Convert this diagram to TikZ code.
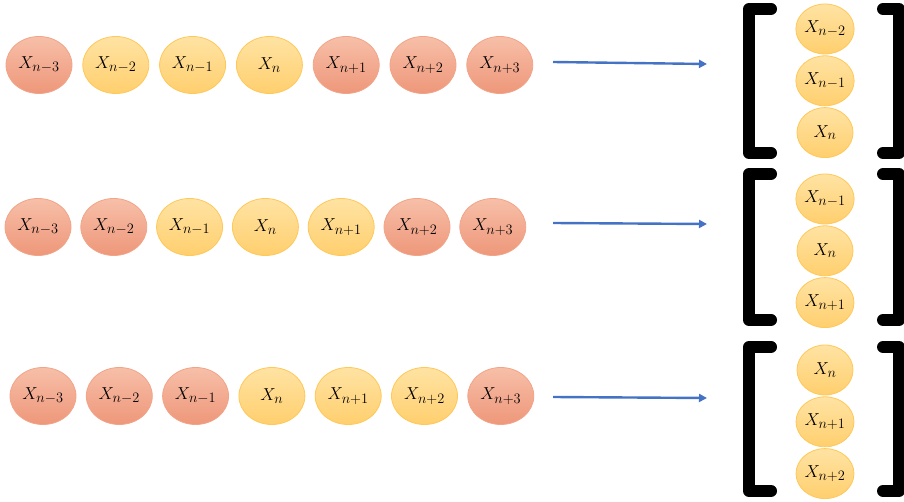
\documentclass[tikz,border=0pt]{standalone}
\usepackage{tikz}
\usetikzlibrary{shapes.geometric,arrows.meta,positioning}

\definecolor{redtop}{HTML}{F7BFA8}
\definecolor{redbot}{HTML}{EE977A}
\definecolor{redline}{HTML}{F2A488}
\definecolor{yeltop}{HTML}{FFE3A3}
\definecolor{yelbot}{HTML}{FFCF6E}
\definecolor{yelline}{HTML}{FFC857}
\definecolor{arrowblue}{HTML}{4472C4}

% larger subscripts for the labels
\renewcommand\defaultscriptratio{.78}

\begin{document}
\begin{tikzpicture}[x=1pt, y=-1pt, node distance=10pt, every node/.style={font=\fontsize{17}{20}\selectfont}]
    % Define styles
    \tikzstyle{outside}=[ellipse,draw=redline,line width=0.8pt,top color=redtop,bottom color=redbot,minimum width=66pt,minimum height=57pt,inner sep=0pt]
    \tikzstyle{inside}=[ellipse,draw=yelline,line width=0.8pt,top color=yeltop,bottom color=yelbot,minimum width=66pt,minimum height=57pt,inner sep=0pt]
    \tikzstyle{picked}=[inside,minimum width=56pt,minimum height=50pt]
    \tikzstyle{bracket}=[line width=12pt,line cap=round,line join=round]
    \tikzstyle{line}=[draw=arrowblue,line width=2.4pt,-{Triangle[length=8pt,width=8pt]}]

    \useasboundingbox (0,0) rectangle (904,502);

    % First sequence
    \node [outside] (rowAnm3) at (39,65) {$X_{n-3}$};
    \node [inside, right=of rowAnm3] (rowAnm2) {$X_{n-2}$};
    \node [inside, right=of rowAnm2] (rowAnm1) {$X_{n-1}$};
    \node [inside, right=of rowAnm1] (rowAn) {$X_{n}$};
    \node [outside, right=of rowAn] (rowAnp1) {$X_{n+1}$};
    \node [outside, right=of rowAnp1] (rowAnp2) {$X_{n+2}$};
    \node [outside, right=of rowAnp2] (rowAnp3) {$X_{n+3}$};

    % Second sequence
    \node [outside] (rowBnm3) at (38,227) {$X_{n-3}$};
    \node [outside, right=9pt of rowBnm3] (rowBnm2) {$X_{n-2}$};
    \node [inside, right=9pt of rowBnm2] (rowBnm1) {$X_{n-1}$};
    \node [inside, right=9pt of rowBnm1] (rowBn) {$X_{n}$};
    \node [inside, right=9pt of rowBn] (rowBnp1) {$X_{n+1}$};
    \node [outside, right=9pt of rowBnp1] (rowBnp2) {$X_{n+2}$};
    \node [outside, right=9pt of rowBnp2] (rowBnp3) {$X_{n+3}$};

    % Third sequence
    \node [outside] (rowCnm3) at (43,396) {$X_{n-3}$};
    \node [outside, right=9.5pt of rowCnm3] (rowCnm2) {$X_{n-2}$};
    \node [outside, right=9.5pt of rowCnm2] (rowCnm1) {$X_{n-1}$};
    \node [inside, right=9.5pt of rowCnm1] (rowCn) {$X_{n}$};
    \node [inside, right=9.5pt of rowCn] (rowCnp1) {$X_{n+1}$};
    \node [inside, right=9.5pt of rowCnp1] (rowCnp2) {$X_{n+2}$};
    \node [outside, right=9.5pt of rowCnp2] (rowCnp3) {$X_{n+3}$};

    % Windows
    \node [picked] (winAtop) at (825,29) {$X_{n-2}$};
    \node [picked, below=1pt of winAtop] (winAmid) {$X_{n-1}$};
    \node [picked, below=1pt of winAmid] (winAbot) {$X_{n}$};

    \node [picked] (winBtop) at (825,199) {$X_{n-1}$};
    \node [picked, below=1pt of winBtop] (winBmid) {$X_{n}$};
    \node [picked, below=1pt of winBmid] (winBbot) {$X_{n+1}$};

    \node [picked] (winCtop) at (825,370) {$X_{n}$};
    \node [picked, below=1pt of winCtop] (winCmid) {$X_{n+1}$};
    \node [picked, below=1pt of winCmid] (winCbot) {$X_{n+2}$};

    % Brackets
    \draw [bracket] (771,9) -- (749,9) -- (749,153) -- (771,153);
    \draw [bracket] (883,9) -- (899,9) -- (899,153) -- (883,153);
    \draw [bracket] (771,174) -- (749,174) -- (749,320) -- (771,320);
    \draw [bracket] (883,174) -- (899,174) -- (899,320) -- (883,320);
    \draw [bracket] (771,347) -- (749,347) -- (749,491) -- (771,491);
    \draw [bracket] (883,347) -- (899,347) -- (899,491) -- (883,491);

    % Arrow ends
    \coordinate (fromA) at (553,62);
    \coordinate (toA) at (707,64);
    \coordinate (fromB) at (553,223);
    \coordinate (toB) at (707,224);
    \coordinate (fromC) at (553,397);
    \coordinate (toC) at (707,398);

    % Define connections
    \path [line] (fromA) -- (toA);
    \path [line] (fromB) -- (toB);
    \path [line] (fromC) -- (toC);
\end{tikzpicture}
\end{document}
